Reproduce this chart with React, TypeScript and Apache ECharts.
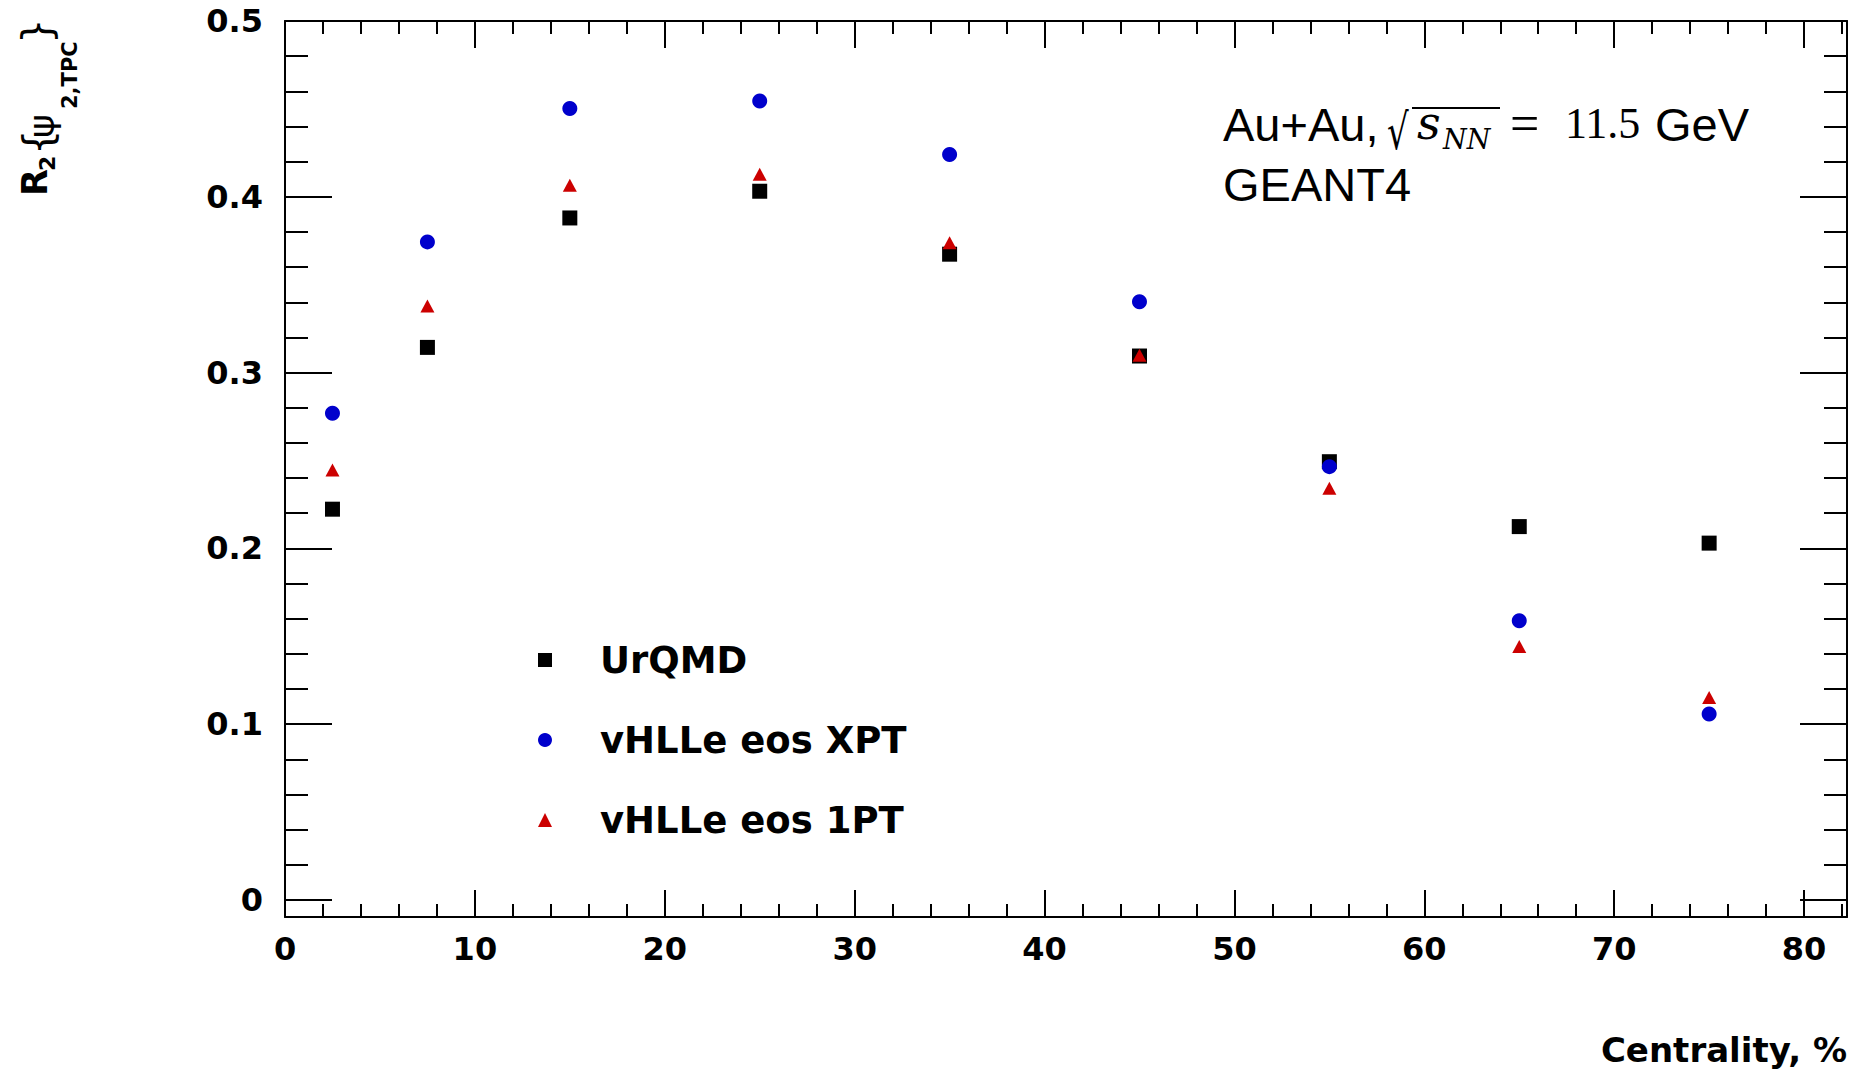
import React, { useEffect, useRef } from "react";
import * as echarts from "echarts";

// ---- data ----
const centrality = [2.5, 7.5, 15, 25, 35, 45, 55, 65, 75];
const urqmd = [0.2224, 0.3144, 0.388, 0.4032, 0.3674, 0.3095, 0.2494, 0.2125, 0.2031];
const eosXPT = [0.2769, 0.3744, 0.4502, 0.4545, 0.4241, 0.3403, 0.2466, 0.1589, 0.1059];
const eos1PT = [0.2447, 0.3379, 0.4066, 0.4129, 0.3739, 0.3100, 0.2343, 0.1443, 0.1153];
const seriesNames = ["UrQMD", "vHLLe eos XPT", "vHLLe eos 1PT"];
const xRange = [0, 82.26];
const yRange = [-0.0095, 0.5];
const yTickRange = [0, 0.5];

const SANS_B = { fontFamily: "DejaVu Sans", fontWeight: "bold" as const };
const BLACK = "#000";

function tickAxisX(position: string, interval: number, len: number, labels: boolean) {
  return {
    type: "value",
    gridIndex: 0,
    position,
    min: xRange[0],
    max: xRange[1],
    interval,
    axisLine: { show: false, onZero: false },
    axisTick: { show: true, inside: true, length: len, lineStyle: { color: BLACK, width: 2 } },
    axisLabel: labels
      ? { show: true, margin: 16, color: BLACK, fontSize: 32, ...SANS_B, showMaxLabel: false }
      : { show: false },
    splitLine: { show: false },
  };
}
function tickAxisY(position: string, interval: number, len: number, labels: boolean) {
  return {
    type: "value",
    gridIndex: 1,
    position,
    min: yTickRange[0],
    max: yTickRange[1],
    interval,
    axisLine: { show: false, onZero: false },
    axisTick: { show: true, inside: true, length: len, lineStyle: { color: BLACK, width: 2 } },
    axisLabel: labels
      ? { show: true, margin: 22, color: BLACK, fontSize: 32, ...SANS_B }
      : { show: false },
    splitLine: { show: false },
  };
}
function frameAxisX(position: string) {
  return {
    type: "value",
    gridIndex: 0,
    position,
    min: xRange[0],
    max: xRange[1],
    axisLine: { show: true, onZero: false, lineStyle: { color: BLACK, width: 2 } },
    axisTick: { show: false },
    axisLabel: { show: false },
    splitLine: { show: false },
  };
}
function frameAxisY(position: string) {
  return {
    type: "value",
    gridIndex: 0,
    position,
    min: yRange[0],
    max: yRange[1],
    axisLine: { show: true, onZero: false, lineStyle: { color: BLACK, width: 2 } },
    axisTick: { show: false },
    axisLabel: { show: false },
    splitLine: { show: false },
  };
}

function txt(x: number, y: number, text: string, size: number, extra: any = {}, el: any = {}) {
  return {
    type: "text",
    x,
    y,
    ...el,
    style: {
      text,
      fill: BLACK,
      fontSize: size,
      fontFamily: "Liberation Sans",
      align: "left",
      verticalAlign: "middle",
      ...extra,
    },
  };
}

export default function App() {
  const ref = useRef<HTMLDivElement>(null);
  useEffect(() => {
    document.body.style.margin = "0";
    if (!ref.current) return;
    const chart = echarts.init(ref.current, undefined, { renderer: "svg" });
    const option: any = {
      animation: false,
      backgroundColor: "#ffffff",
      grid: [
        { left: 285, top: 21, width: 1562, height: 896 },
        { left: 285, top: 21, width: 1562, height: 879 },
      ],
      xAxis: [
        frameAxisX("bottom"),
        frameAxisX("top"),
        tickAxisX("bottom", 10, 27, true),
        tickAxisX("bottom", 2, 13, false),
        tickAxisX("top", 10, 27, false),
        tickAxisX("top", 2, 13, false),
        { type: "value", gridIndex: 1, show: false, min: xRange[0], max: xRange[1] },
      ],
      yAxis: [
        frameAxisY("left"),
        frameAxisY("right"),
        tickAxisY("left", 0.1, 47, true),
        tickAxisY("left", 0.02, 23, false),
        tickAxisY("right", 0.1, 47, false),
        tickAxisY("right", 0.02, 23, false),
      ],
      legend: {
        orient: "vertical",
        left: 538,
        top: 640,
        padding: 0,
        itemGap: 40,
        itemWidth: 14,
        itemHeight: 14,
        selectedMode: false,
        textStyle: {
          color: BLACK,
          fontSize: 37,
          ...SANS_B,
          lineHeight: 40,
          padding: [0, 0, 0, 43],
        },
        data: [
          { name: seriesNames[0], icon: "rect", itemStyle: { color: "#000000", opacity: 1 } },
          { name: seriesNames[1], icon: "circle", itemStyle: { color: "#0000cc", opacity: 1 } },
          { name: seriesNames[2], icon: "triangle", itemStyle: { color: "#cc0000", opacity: 1 } },
        ],
      },
      series: [
        {
          name: seriesNames[0],
          type: "scatter",
          xAxisIndex: 0,
          yAxisIndex: 0,
          symbol: "rect",
          symbolSize: 15,
          itemStyle: { color: "#000000", opacity: 1 },
          data: centrality.map((c, i) => [c, urqmd[i]]),
          z: 3,
        },
        {
          name: seriesNames[1],
          type: "scatter",
          xAxisIndex: 0,
          yAxisIndex: 0,
          symbol: "circle",
          symbolSize: 15,
          itemStyle: { color: "#0000cc", opacity: 1 },
          data: centrality.map((c, i) => [c, eosXPT[i]]),
          z: 4,
        },
        {
          name: seriesNames[2],
          type: "scatter",
          xAxisIndex: 0,
          yAxisIndex: 0,
          symbol: "triangle",
          symbolSize: [14, 13],
          itemStyle: { color: "#cc0000", opacity: 1 },
          data: centrality.map((c, i) => [c, eos1PT[i]]),
          z: 5,
        },
      ],
      graphic: [
        // y-axis title, rotated
        {
          type: "group",
          x: 0,
          y: 198,
          rotation: Math.PI / 2,
          children: [
            txt(2, 35, "R", 35, SANS_B),
            txt(27, 47, "2", 22, SANS_B),
            txt(43, 38, "{", 40, { fontFamily: "DejaVu Sans" }),
            txt(60, 41, "ψ", 36, { fontFamily: "DejaVu Sans" }),
            txt(89, 70, "2,TPC", 21, SANS_B),
            txt(154, 37, "}", 40, { fontFamily: "DejaVu Sans" }),
          ],
        },
        // x-axis title
        txt(1847, 1050, "Centrality, %", 34, { ...SANS_B, align: "right" }),
        // annotation
        txt(1223, 124, "Au+Au,", 47),
        txt(1387, 132, "√", 34, { fontFamily: "DejaVu Sans" }, { scaleY: 1.45 }),
        {
          type: "line",
          shape: { x1: 1412, y1: 108, x2: 1500, y2: 108 },
          style: { stroke: BLACK, lineWidth: 2 },
        },
        txt(1417, 123, "s", 46, { fontFamily: "DejaVu Serif", fontStyle: "italic" }),
        txt(1443, 139, "NN", 27, { fontFamily: "DejaVu Serif", fontStyle: "italic" }),
        txt(1510, 123, "=", 52, { fontFamily: "Liberation Serif" }),
        txt(1565, 123, "11.5", 44, { fontFamily: "Liberation Serif" }),
        txt(1655, 124, "GeV", 47),
        txt(1223, 184, "GEANT4", 47),
      ],
    };
    chart.setOption(option);
    return () => chart.dispose();
  }, []);
  return <div ref={ref} style={{ width: 1857, height: 1074 }} />;
}
